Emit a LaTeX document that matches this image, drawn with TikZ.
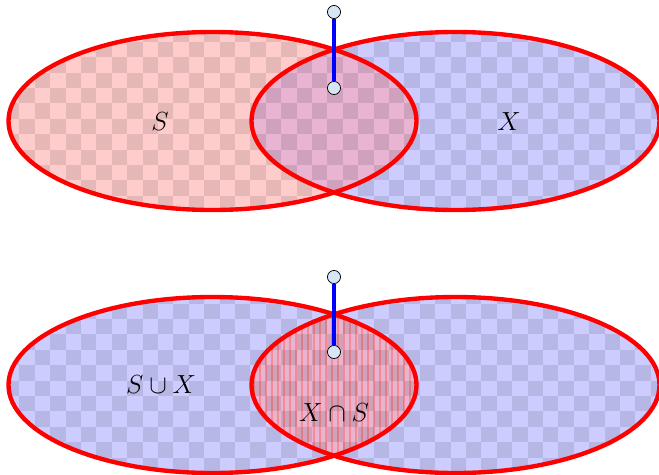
\documentclass[tikz,border=0pt]{standalone}
\usetikzlibrary{positioning}
\definecolor{vnRed}{RGB}{255,0,0}
\definecolor{vnBlue}{RGB}{0,0,255}
\definecolor{vnPink}{RGB}{255,204,204}
\definecolor{vnLilac}{RGB}{204,204,255}
\definecolor{vnMix}{RGB}{232,180,210}
\definecolor{vnStripe}{RGB}{244,140,150}
\definecolor{vnKnob}{RGB}{214,230,245}

\begin{document}
\begin{tikzpicture}[x=0.55pt, y=-0.55pt,
  knob/.style={circle, draw=black, thin, fill=vnKnob, minimum size=7.2pt, inner sep=0pt},
  rim/.style={draw=vnRed, line width=2.4pt},
  handle/.style={draw=vnBlue, line width=2.5pt},
  lbl/.style={font=\fontsize{13.5}{16}\selectfont, inner sep=0pt}]
  \useasboundingbox (0,0) rectangle (659,474);
  % centres of the four sets
  \coordinate (S1) at (212.5,121);
  \coordinate (X1) at (455.5,121);
  \coordinate (S2) at (212.5,385);
  \coordinate (X2) at (455.5,385);
  % upper diagram: S and X apart
  \fill[vnLilac] (X1) ellipse [x radius=204, y radius=89];
  \fill[vnPink] (S1) ellipse [x radius=204, y radius=89];
  \begin{scope}
    \clip (S1) ellipse [x radius=204, y radius=89];
    \fill[vnMix] (X1) ellipse [x radius=204, y radius=89];
  \end{scope}
  % lower diagram: union, then intersection
  \fill[vnLilac] (S2) ellipse [x radius=204, y radius=88]
                 (X2) ellipse [x radius=204, y radius=88];
  \begin{scope}
    \clip (S2) ellipse [x radius=204, y radius=88];
    \fill[vnMix] (X2) ellipse [x radius=204, y radius=88];
    \clip (X2) ellipse [x radius=204, y radius=88];
    \foreach \k in {0,...,30}
      \draw[vnStripe, line width=1pt] (248+6*\k,290) -- (248+6*\k,480);
  \end{scope}
  % checkerboard over the colours
  \begin{scope}
    \clip (S1) ellipse [x radius=204, y radius=89] (X1) ellipse [x radius=204, y radius=89]
          (S2) ellipse [x radius=204, y radius=88] (X2) ellipse [x radius=204, y radius=88];
    \foreach \i in {0,2,...,42} \foreach \j in {0,2,...,30}
      \fill[black, opacity=0.1] (4+15.4*\i,11+15.4*\j) rectangle ++(15.4,15.4);
    \foreach \i in {1,3,...,41} \foreach \j in {1,3,...,29}
      \fill[black, opacity=0.1] (4+15.4*\i,11+15.4*\j) rectangle ++(15.4,15.4);
  \end{scope}
  % outlines
  \draw[rim] (S1) ellipse [x radius=204, y radius=89];
  \draw[rim] (X1) ellipse [x radius=204, y radius=89];
  \draw[rim] (S2) ellipse [x radius=204, y radius=88];
  \draw[rim] (X2) ellipse [x radius=204, y radius=88];
  % labels
  \node[lbl] (sLabel) at (160,122) {$S$};
  \node[lbl] (xLabel) at (509,122) {$X$};
  \node[lbl] (uLabel) at (161,385) {$S \cup X$};
  \node[lbl] (iLabel) at (334,413) {$X \cap S$};
  % handles
  \node[knob] (topA) at (334,12) {};
  \node[knob] (topB) at (334,88) {};
  \node[knob] (botA) at (334,277) {};
  \node[knob] (botB) at (334,352) {};
  \draw[handle] (topA) -- (topB);
  \draw[handle] (botA) -- (botB);
\end{tikzpicture}
\end{document}
